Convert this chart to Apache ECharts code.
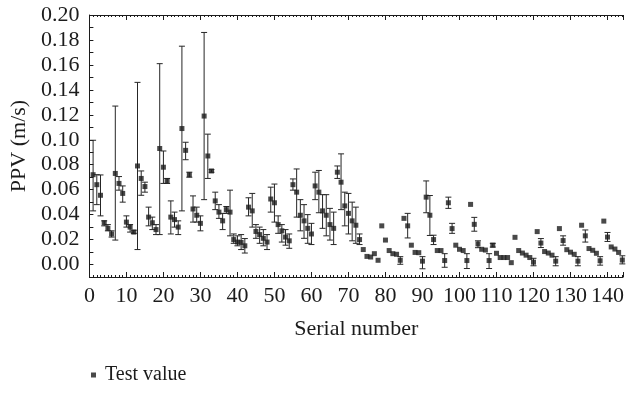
<!DOCTYPE html>
<html>
<head>
<meta charset="utf-8">
<script src="https://cdn.jsdelivr.net/npm/echarts@6/dist/echarts.min.js"></script>
<style>
  html, body { margin: 0; padding: 0; background: #ffffff; }
  #chart { width: 627px; height: 413px; }
</style>
</head>
<body>
<div id="chart"></div>
<script>
// Measured peak particle velocity (m/s) for each test, in serial order 1..144
const ppv = [
  0.072, 0.064, 0.0555, 0.0335, 0.029, 0.0245, 0.073, 0.065, 0.057, 0.034,
  0.030, 0.026, 0.079, 0.069, 0.0625, 0.038, 0.0335, 0.028, 0.093, 0.078,
  0.067, 0.038, 0.036, 0.030, 0.109, 0.0915, 0.072, 0.0445, 0.0395, 0.033,
  0.119, 0.087, 0.075, 0.051, 0.042, 0.035, 0.044, 0.042, 0.020, 0.018,
  0.0177, 0.015, 0.046, 0.043, 0.0265, 0.024, 0.021, 0.018, 0.0525, 0.0495,
  0.032, 0.027, 0.022, 0.019, 0.064, 0.058, 0.0395, 0.035, 0.029, 0.0245,
  0.063, 0.058, 0.043, 0.0395, 0.032, 0.029, 0.074, 0.066, 0.047, 0.041,
  0.035, 0.0315, 0.020, 0.012, 0.0065, 0.006, 0.0087, 0.0034, 0.031, 0.0196,
  0.0112, 0.0087, 0.0082, 0.0034, 0.037, 0.031, 0.0155, 0.0097, 0.0095, 0.0027,
  0.054, 0.0395, 0.020, 0.0112, 0.0112, 0.0032, 0.0495, 0.0288, 0.0155, 0.0122,
  0.0112, 0.0032, 0.0482, 0.0322, 0.0165, 0.0122, 0.0116, 0.0032, 0.0155, 0.009,
  0.0056, 0.0056, 0.0056, 0.0015, 0.0218, 0.0112, 0.0092, 0.0075, 0.0056, 0.0019,
  0.0264, 0.0172, 0.0104, 0.0092, 0.0075, 0.0027, 0.0288, 0.0192, 0.0119, 0.0099,
  0.0082, 0.0027, 0.0315, 0.023, 0.0128, 0.0114, 0.009, 0.003, 0.0348, 0.022,
  0.0141, 0.0124, 0.0097, 0.0036
];

// Lower and upper ends of the error bars (null where no bar is drawn)
const ppvLow = [
  0.043, 0.048, 0.039, 0.031, 0.027, 0.022, 0.0196, 0.0596, 0.050, 0.030,
  0.026, 0.025, 0.012, 0.0555, 0.058, 0.031, 0.028, 0.024, 0.024, 0.065,
  0.065, 0.0245, 0.030, 0.024, 0.043, 0.084, 0.070, 0.034, 0.034, 0.027,
  0.052, 0.069, 0.074, 0.044, 0.037, 0.028, 0.041, 0.023, 0.017, 0.015,
  0.012, 0.0092, 0.039, 0.030, 0.021, 0.017, 0.015, 0.012, 0.042, 0.034,
  0.025, 0.018, 0.0155, 0.013, 0.0596, 0.038, 0.027, 0.021, 0.017, 0.016,
  0.052, 0.0415, 0.029, 0.023, 0.0196, 0.016, 0.069, 0.044, 0.031, 0.0245,
  0.019, 0.017, 0.016, null, null, null, null, null, null, null,
  null, null, null, 0.0002, null, 0.0213, null, null, null, -0.0034,
  0.0415, 0.0233, 0.016, null, null, -0.0022, 0.045, 0.025, null, null,
  null, -0.0032, null, 0.0267, 0.0135, null, null, -0.0032, 0.014, null,
  null, null, null, null, null, null, null, null, null, -0.001,
  null, 0.0136, null, null, null, -0.001, null, 0.0155, null, null,
  null, -0.001, null, 0.018, null, null, null, -0.0005, null, 0.0185,
  null, null, null, 0.0005
];
const ppvHigh = [
  0.0996, 0.072, 0.0718, 0.035, 0.032, 0.027, 0.127, 0.0705, 0.063, 0.039,
  0.032, 0.0275, 0.146, 0.075, 0.066, 0.046, 0.038, 0.032, 0.161, 0.091,
  0.069, 0.051, 0.042, 0.035, 0.175, 0.098, 0.074, 0.055, 0.046, 0.039,
  0.186, 0.1045, 0.076, 0.058, 0.048, 0.041, 0.0465, 0.0596, 0.0245, 0.023,
  0.024, 0.0208, 0.0535, 0.057, 0.032, 0.030, 0.028, 0.024, 0.062, 0.0645,
  0.039, 0.032, 0.028, 0.0245, 0.0686, 0.0766, 0.052, 0.048, 0.040, 0.033,
  0.074, 0.0754, 0.056, 0.056, 0.045, 0.042, 0.079, 0.0887, 0.058, 0.057,
  0.050, 0.046, 0.0245, null, null, null, null, null, null, null,
  null, null, null, 0.0063, null, 0.041, null, null, null, 0.0063,
  0.067, 0.0553, 0.0235, null, null, 0.0087, 0.054, 0.033, null, null,
  null, 0.0087, null, 0.0378, 0.019, null, null, 0.0087, 0.017, null,
  null, null, null, null, null, null, null, null, null, 0.005,
  null, 0.0208, null, null, null, 0.0063, null, 0.023, null, null,
  null, 0.0063, null, 0.0277, null, null, null, 0.0063, null, 0.0257,
  null, null, null, 0.007
];

const yTickLabels = ['0.00', '0.02', '0.04', '0.06', '0.08', '0.10', '0.12', '0.14', '0.16', '0.18', '0.20'];
const xTickLabels = ['0', '10', '20', '30', '40', '50', '60', '70', '80', '90', '100', '110', '120', '130', '140'];

const serial = ppv.map((_, i) => i + 1);
const points = serial.map((s, i) => [s, ppv[i]]);
const bars = [];
serial.forEach((s, i) => {
  if (ppvLow[i] !== null && ppvHigh[i] !== null) bars.push([s, ppvLow[i], ppvHigh[i]]);
});

const FONT = '"Liberation Serif", "Times New Roman", serif';
const INK = '#1c1c1c';
const FS = 22;

const chart = echarts.init(document.getElementById('chart'), null, { renderer: 'canvas' });

const xBase = {
  type: 'value',
  min: 0,
  max: 144.2,
  interval: 10,
  axisLine: { show: true, onZero: false, lineStyle: { color: INK, width: 1 } },
  axisTick: { show: true, inside: true, length: 5, lineStyle: { color: INK } },
  minorTick: { show: true, splitNumber: 10, length: 2, lineStyle: { color: INK } },
  splitLine: { show: false },
  minorSplitLine: { show: false }
};

chart.setOption({
  animation: false,
  backgroundColor: '#ffffff',
  grid: { left: 89, right: 0, top: 15, bottom: 136, containLabel: false },
  legend: {
    show: true,
    left: 86,
    top: 360,
    icon: 'rect',
    itemWidth: 5,
    itemHeight: 5,
    itemGap: 10,
    textStyle: { fontFamily: FONT, fontSize: 20, color: INK, padding: [0, 0, 0, 4] },
    data: ['Test value']
  },
  xAxis: [
    Object.assign({}, xBase, {
      position: 'bottom',
      name: 'Serial number',
      nameLocation: 'middle',
      nameGap: 41,
      nameTextStyle: { fontFamily: FONT, fontSize: FS, color: INK },
      axisLabel: {
        show: true,
        margin: 8,
        fontFamily: FONT,
        fontSize: FS,
        color: INK,
        formatter: v => xTickLabels.includes(String(v)) ? String(v) : ''
      }
    }),
    Object.assign({}, xBase, {
      position: 'top',
      axisLabel: { show: false }
    })
  ],
  yAxis: {
    type: 'value',
    min: -0.01,
    max: 0.20,
    interval: 0.01,
    name: 'PPV (m/s)',
    nameLocation: 'middle',
    nameGap: 57,
    nameRotate: 90,
    nameTextStyle: { fontFamily: FONT, fontSize: FS, color: INK },
    axisLine: { show: true, onZero: false, lineStyle: { color: INK, width: 1 } },
    axisTick: { show: true, inside: true, length: 4, lineStyle: { color: INK } },
    splitLine: { show: false },
    axisLabel: {
      show: true,
      margin: 10,
      fontFamily: FONT,
      fontSize: FS,
      color: INK,
      formatter: v => {
        const s = v.toFixed(2);
        return yTickLabels.includes(s) ? s : '';
      }
    }
  },
  series: [
    {
      name: 'Error bar',
      type: 'custom',
      xAxisIndex: 0,
      yAxisIndex: 0,
      data: bars,
      encode: { x: 0, y: [1, 2] },
      z: 2,
      silent: true,
      renderItem: (params, api) => {
        const x = api.value(0);
        const lo = api.coord([x, api.value(1)]);
        const hi = api.coord([x, api.value(2)]);
        const cap = 3;
        const style = { stroke: '#262626', lineWidth: 1 };
        return {
          type: 'group',
          children: [
            { type: 'line', shape: { x1: lo[0], y1: lo[1], x2: hi[0], y2: hi[1] }, style },
            { type: 'line', shape: { x1: hi[0] - cap, y1: hi[1], x2: hi[0] + cap, y2: hi[1] }, style },
            { type: 'line', shape: { x1: lo[0] - cap, y1: lo[1], x2: lo[0] + cap, y2: lo[1] }, style }
          ]
        };
      }
    },
    {
      name: 'Test value',
      type: 'scatter',
      xAxisIndex: 0,
      yAxisIndex: 0,
      data: points,
      symbol: 'rect',
      symbolSize: 5,
      itemStyle: { color: INK },
      z: 3
    }
  ]
});
</script>
</body>
</html>
